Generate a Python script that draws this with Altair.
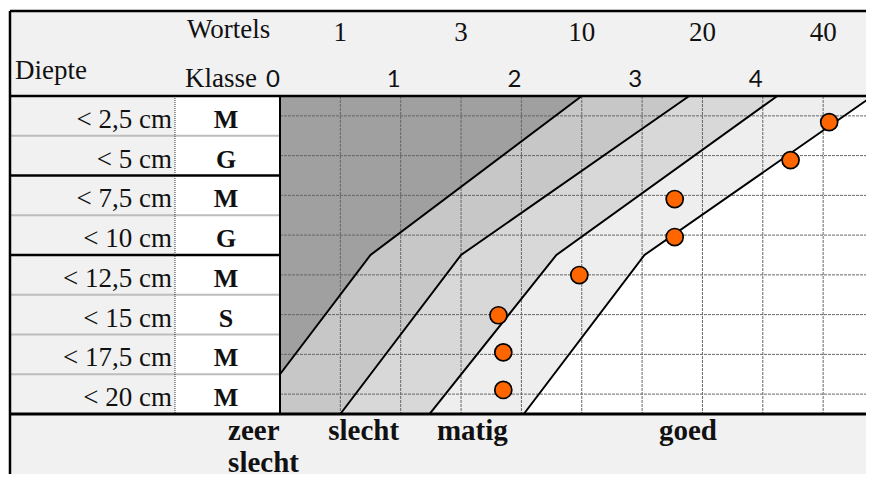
import altair as alt
import pandas as pd

# ---------------- data ----------------
depth_labels = ["< 2,5 cm", "< 5 cm", "< 7,5 cm", "< 10 cm",
                "< 12,5 cm", "< 15 cm", "< 17,5 cm", "< 20 cm"]
row_center = [1.25, 3.75, 6.25, 8.75, 11.25, 13.75, 16.25, 18.75]
class_letters = ["M", "G", "M", "G", "M", "S", "M", "M"]

klasse_ticks = [0, 1, 2, 3, 4, 5]
wortels_pos = [0.5, 1.5, 2.5, 3.5, 4.5]
wortels_labels = ["1", "3", "10", "20", "40"]

# observed points (class value, depth)
dot_class = [4.55, 4.23, 3.27, 3.27, 2.48, 1.81, 1.85, 1.85]
dot_depth = [1.64, 4.03, 6.48, 8.87, 11.26, 13.79, 16.12, 18.49]

# boundary lines between the zones (class value at depth)
bound_A_c = [0.0, 0.75, 2.5]
bound_A_d = [17.5, 10, 0]
bound_B_c = [0.5, 1.5, 3.39]
bound_B_d = [20, 10, 0]
bound_C_c = [1.24, 2.29, 4.12]
bound_C_d = [20, 10, 0]
bound_D_c = [2.02, 3.02, 4.91]
bound_D_d = [20, 10, 0]

quality_labels = ["zeer\nslecht", "slecht", "matig", "goed"]
quality_pos = [-0.43, 0.40, 1.30, 3.14]

sep_grey = [2.5, 7.5, 12.5, 15, 17.5]
sep_black = [5, 10]

# table frame extents (class units / depth units)
FRAME_L = -2.237
COL_SPLIT = -0.87
HEAD_TOP = -5.35
RIGHT = 5.6
FOOT_BOT = 26

# ---------------- scales ----------------
W, H = 858, 466
xs = alt.Scale(domain=[-2.2535, 4.855], nice=False, zero=False)
ys = alt.Scale(domain=[-5.5346, 23.774], nice=False, zero=False, reverse=True)


def X(f):
    return alt.X(f, type="quantitative", scale=xs, axis=None)


def Y(f):
    return alt.Y(f, type="quantitative", scale=ys, axis=None)


SERIF = "Liberation Serif"
LIGHT = "#f1f1f1"

layers = []

# backgrounds
bg = pd.DataFrame({
    "x": [FRAME_L, FRAME_L, FRAME_L],
    "x2": [RIGHT, COL_SPLIT, RIGHT],
    "y": [HEAD_TOP, 0, 20],
    "y2": [0, 20, FOOT_BOT],
})
layers.append(alt.Chart(bg).mark_rect(color=LIGHT, strokeWidth=0).encode(
    x=X("x"), x2="x2", y=Y("y"), y2="y2"))

# darkest zone (whole plot first)
plot_bg = pd.DataFrame({"x": [0], "x2": [RIGHT], "y": [0], "y2": [20]})
layers.append(alt.Chart(plot_bg).mark_rect(color="#a0a0a0", strokeWidth=0).encode(
    x=X("x"), x2="x2", y=Y("y"), y2="y2"))

zone_colors = ["#c7c7c7", "#d8d8d8", "#eeeeee", "#ffffff"]
bounds = [(bound_A_c, bound_A_d), (bound_B_c, bound_B_d),
          (bound_C_c, bound_C_d), (bound_D_c, bound_D_d)]
for (bc, bd), col in zip(bounds, zone_colors):
    # zone to the right of / below each boundary, closed at the plot's right edge
    df = pd.DataFrame({"c": list(bc) + [RIGHT], "d": list(bd) + [0]})
    df["d2"] = 20
    layers.append(alt.Chart(df).mark_area(color=col, opacity=1, strokeWidth=0).encode(
        x=X("c"), y=alt.Y("d:Q", scale=ys, axis=None, stack=None), y2="d2"))

# grid
vgrid = pd.DataFrame({"x": [0.5, 1, 1.5, 2, 2.5, 3, 3.5, 4, 4.5, 5],
                      "y": [0] * 10, "y2": [20] * 10})
layers.append(alt.Chart(vgrid).mark_rule(color="#666666", strokeWidth=1,
                                         strokeDash=[3, 1]).encode(
    x=X("x"), y=Y("y"), y2="y2"))
hgrid = pd.DataFrame({"y": row_center, "x": [0] * 8, "x2": [RIGHT] * 8})
layers.append(alt.Chart(hgrid).mark_rule(color="#666666", strokeWidth=1,
                                         strokeDash=[3, 1]).encode(
    y=Y("y"), x=X("x"), x2="x2"))

# boundary lines
lines_rows = []
for name, (bc, bd) in zip("ABCD", bounds):
    for c, d in zip(bc, bd):
        lines_rows.append({"line": name, "c": c, "d": d})
lines_df = pd.DataFrame(lines_rows)
layers.append(alt.Chart(lines_df).mark_line(color="black", strokeWidth=2).encode(
    x=X("c"), y=Y("d"), detail="line:N", order=alt.Order("d:Q")))

# points
dots = pd.DataFrame({"c": dot_class, "d": dot_depth})
layers.append(alt.Chart(dots).mark_circle(fill="#ff6600", stroke="black",
                                          strokeWidth=1.7, size=290, opacity=1).encode(
    x=X("c"), y=Y("d")))

# table rules
grey_df = pd.DataFrame({"y": sep_grey, "x": [FRAME_L] * len(sep_grey),
                        "x2": [0] * len(sep_grey)})
layers.append(alt.Chart(grey_df).mark_rule(color="#bdbdbd", strokeWidth=2).encode(
    y=Y("y"), x=X("x"), x2="x2"))
black_df = pd.DataFrame({"y": sep_black, "x": [FRAME_L] * len(sep_black),
                         "x2": [0] * len(sep_black)})
layers.append(alt.Chart(black_df).mark_rule(color="black", strokeWidth=2.5).encode(
    y=Y("y"), x=X("x"), x2="x2"))

dotted = pd.DataFrame({"x": [COL_SPLIT], "y": [0], "y2": [20]})
layers.append(alt.Chart(dotted).mark_rule(color="#333333", strokeWidth=1,
                                          strokeDash=[1, 1]).encode(
    x=X("x"), y=Y("y"), y2="y2"))

plot_left = pd.DataFrame({"x": [0], "y": [0], "y2": [20]})
layers.append(alt.Chart(plot_left).mark_rule(color="black", strokeWidth=2).encode(
    x=X("x"), y=Y("y"), y2="y2"))

for yv, w in [(HEAD_TOP, 2.5), (0, 2.5), (20, 3)]:
    df = pd.DataFrame({"y": [yv], "x": [FRAME_L], "x2": [RIGHT]})
    layers.append(alt.Chart(df).mark_rule(color="black", strokeWidth=w).encode(
        y=Y("y"), x=X("x"), x2="x2"))
frame_v = pd.DataFrame({"x": [FRAME_L], "y": [HEAD_TOP], "y2": [FOOT_BOT]})
layers.append(alt.Chart(frame_v).mark_rule(color="black", strokeWidth=2.5).encode(
    x=X("x"), y=Y("y"), y2="y2"))

# ---------------- texts ----------------
head = pd.DataFrame({"t": ["Wortels", "Klasse", "Diepte"],
                     "x": [-0.7705, -0.787, -2.1955],
                     "y": [-3.648, -0.566, -1.069]})
layers.append(alt.Chart(head).mark_text(font=SERIF, fontSize=27, align="left",
                                        baseline="alphabetic", color="#111111").encode(
    x=X("x"), y=Y("y"), text="t:N"))

wort = pd.DataFrame({"t": wortels_labels, "x": wortels_pos, "y": [-3.46] * 5})
layers.append(alt.Chart(wort).mark_text(font=SERIF, fontSize=27, align="center",
                                        baseline="alphabetic", color="#111111").encode(
    x=X("x"), y=Y("y"), text="t:N"))

kl = pd.DataFrame({"t": [str(k) for k in klasse_ticks], "x": klasse_ticks,
                   "y": [-0.566] * len(klasse_ticks)})
layers.append(alt.Chart(kl).mark_text(font="Lato", fontSize=24, align="center",
                                      baseline="alphabetic", dx=-7,
                                      color="#111111").encode(
    x=X("x"), y=Y("y"), text="t:N"))

rows = pd.DataFrame({"t": depth_labels, "k": class_letters, "y": row_center,
                     "x": [-0.895] * 8, "xk": [-0.447] * 8})
layers.append(alt.Chart(rows).mark_text(font=SERIF, fontSize=27, align="right",
                                        baseline="alphabetic", dy=12,
                                        color="#111111").encode(
    x=X("x"), y=Y("y"), text="t:N"))
layers.append(alt.Chart(rows).mark_text(font=SERIF, fontSize=26, fontWeight="bold",
                                        align="center", baseline="alphabetic", dy=12,
                                        color="#111111").encode(
    x=X("xk"), y=Y("y"), text="k:N"))

qual = pd.DataFrame({"t": quality_labels, "x": quality_pos, "y": [21.64] * 4})
layers.append(alt.Chart(qual).mark_text(font=SERIF, fontSize=29, fontWeight="bold",
                                        align="left", baseline="alphabetic",
                                        lineBreak="\n", lineHeight=32,
                                        color="#111111").encode(
    x=X("x"), y=Y("y"), text="t:N"))

chart = alt.layer(*layers).properties(
    width=W, height=H,
    autosize=alt.AutoSizeParams(type="none"),
    padding=0,
    background="white",
    view=alt.ViewBackground(stroke="transparent", strokeWidth=0),
).configure_view(strokeWidth=0, stroke="transparent")

chart.save("out.html", embed_options={"renderer": "svg", "actions": False})
